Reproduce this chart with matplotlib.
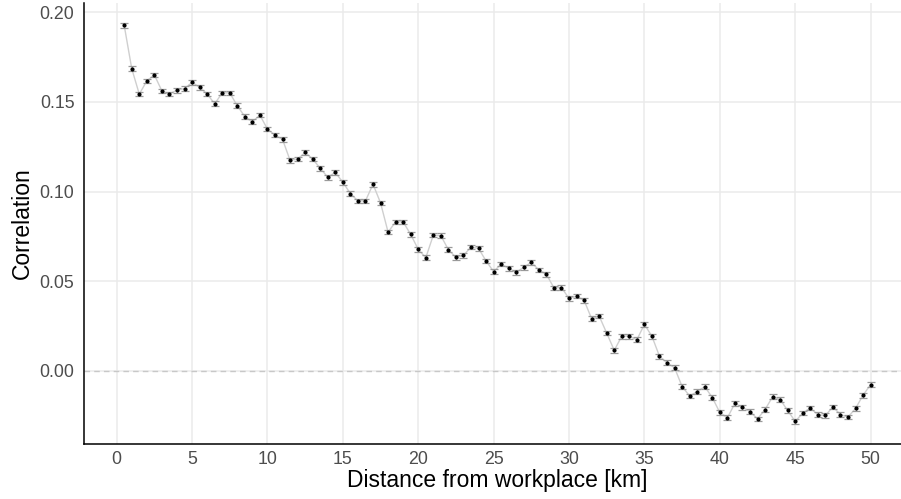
import numpy as np
import matplotlib
matplotlib.use("Agg")
import matplotlib.pyplot as plt

plt.rcParams['font.family'] = ['Liberation Sans', 'DejaVu Sans']

# distance bins [km]
distance = [
    0.5, 1.0, 1.5, 2.0, 2.5, 3.0, 3.5, 4.0, 4.5, 5.0,
    5.5, 6.0, 6.5, 7.0, 7.5, 8.0, 8.5, 9.0, 9.5, 10.0,
    10.5, 11.0, 11.5, 12.0, 12.5, 13.0, 13.5, 14.0, 14.5, 15.0,
    15.5, 16.0, 16.5, 17.0, 17.5, 18.0, 18.5, 19.0, 19.5, 20.0,
    20.5, 21.0, 21.5, 22.0, 22.5, 23.0, 23.5, 24.0, 24.5, 25.0,
    25.5, 26.0, 26.5, 27.0, 27.5, 28.0, 28.5, 29.0, 29.5, 30.0,
    30.5, 31.0, 31.5, 32.0, 32.5, 33.0, 33.5, 34.0, 34.5, 35.0,
    35.5, 36.0, 36.5, 37.0, 37.5, 38.0, 38.5, 39.0, 39.5, 40.0,
    40.5, 41.0, 41.5, 42.0, 42.5, 43.0, 43.5, 44.0, 44.5, 45.0,
    45.5, 46.0, 46.5, 47.0, 47.5, 48.0, 48.5, 49.0, 49.5, 50.0,
]

correlation = [
    0.1926, 0.1685, 0.1543, 0.1617, 0.1650, 0.1561, 0.1544, 0.1565, 0.1574, 0.1609,
    0.1581, 0.1544, 0.1489, 0.1550, 0.1550, 0.1478, 0.1418, 0.1389, 0.1426, 0.1348,
    0.1315, 0.1291, 0.1174, 0.1181, 0.1218, 0.1181, 0.1130, 0.1080, 0.1107, 0.1052,
    0.0989, 0.0948, 0.0948, 0.1041, 0.0937, 0.0774, 0.0831, 0.0831, 0.0761, 0.0678,
    0.0631, 0.0757, 0.0754, 0.0676, 0.0633, 0.0644, 0.0691, 0.0683, 0.0613, 0.0554,
    0.0596, 0.0572, 0.0550, 0.0578, 0.0606, 0.0563, 0.0539, 0.0463, 0.0465, 0.0404,
    0.0417, 0.0394, 0.0291, 0.0306, 0.0211, 0.0115, 0.0194, 0.0194, 0.0174, 0.0260,
    0.0193, 0.0082, 0.0046, 0.0018, -0.0087, -0.0139, -0.0115, -0.0087, -0.0148, -0.0231,
    -0.0261, -0.0181, -0.0202, -0.0226, -0.0267, -0.0215, -0.0144, -0.0159, -0.0220, -0.0281,
    -0.0235, -0.0206, -0.0244, -0.0248, -0.0200, -0.0243, -0.0257, -0.0209, -0.0135, -0.0076,
]

# half-width of the confidence interval
ci_half = 0.0013

x_ticks = [0, 5, 10, 15, 20, 25, 30, 35, 40, 45, 50]
y_ticks = [0.00, 0.05, 0.10, 0.15, 0.20]

fig = plt.figure(figsize=(9.01, 4.99), dpi=100)
ax = fig.add_axes([83.5 / 901, 55 / 499, 827.8 / 901, 441 / 499])

ax.axhline(0, color='#c8c8c8', lw=1.0, ls=(0, (4, 3)), zorder=1)
ax.plot(distance, correlation, color='#cfcfcf', lw=1.0, zorder=2)
ax.errorbar(distance, correlation, yerr=ci_half, fmt='none', ecolor='#9a9a9a',
            elinewidth=0.8, capsize=2.8, capthick=0.9, zorder=3)
ax.plot(distance, correlation, 'o', color='black', ms=3.0, mew=0, zorder=4)

ax.set_xlim(-2.2, 52.7)
ax.set_ylim(-0.0407, 0.2051)
ax.set_xticks(x_ticks)
ax.set_yticks(y_ticks)
ax.set_yticklabels([f'{v:.2f}' for v in y_ticks])

ax.grid(True, color='#ebebeb', lw=1.1)
ax.set_axisbelow(True)
for s in ['top', 'right']:
    ax.spines[s].set_visible(False)
for s in ['left', 'bottom']:
    ax.spines[s].set_linewidth(1.1)
    ax.spines[s].set_color('black')

ax.tick_params(length=0, labelsize=12.8, colors='#4d4d4d', pad=6.5)
ax.tick_params(axis='x', pad=5)

ax.set_xlabel('Distance from workplace [km]', fontsize=16.5, color='black', labelpad=1)
ax.set_ylabel('Correlation', fontsize=16.5, color='black', labelpad=4)

fig.savefig('out.png', dpi=100)
